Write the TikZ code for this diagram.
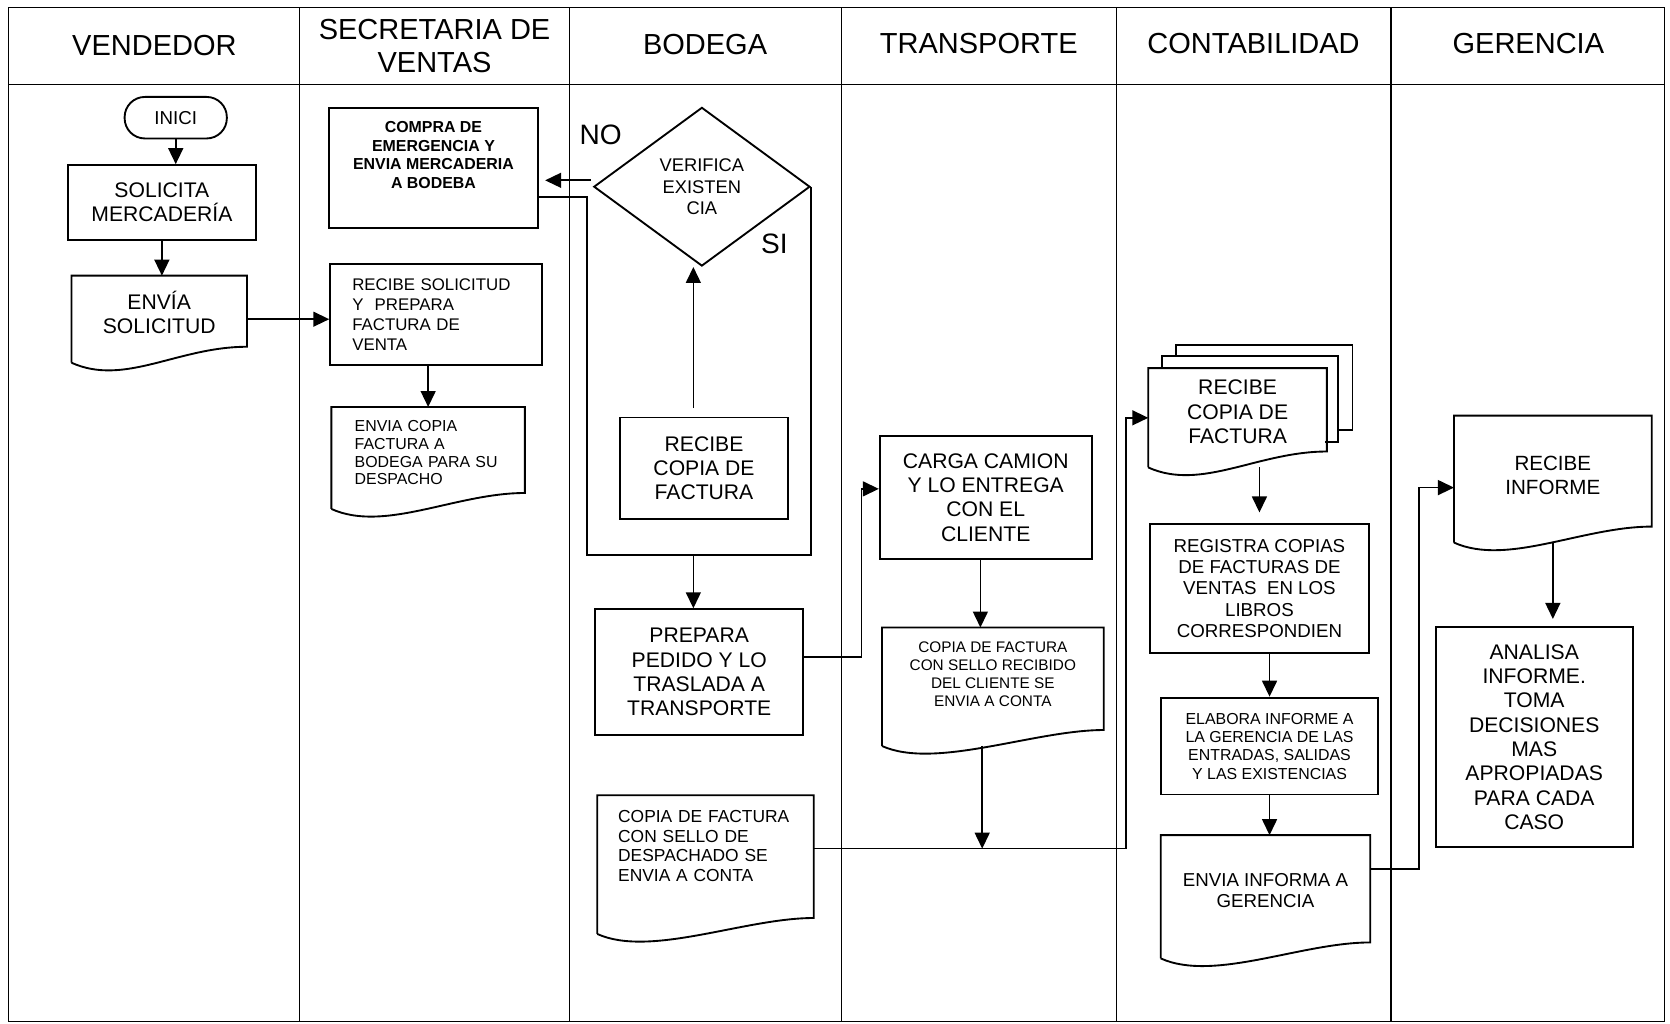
\documentclass[tikz,border=0pt]{standalone}
\usepackage{fontspec}
\setmainfont{Liberation Sans}
\usepackage{tikz}
\usetikzlibrary{arrows.meta, shapes.geometric}
\tikzset{%
	caja/.style={
		draw,
		line width=1pt,
		align=center,
		inner sep=0pt,
		font=\fontsize{11.3}{13}\selectfont
	},
	hoja/.style={
		caja,
		draw=none
	},
	chica/.style={
		font=\fontsize{8.5}{10}\selectfont
	},
	cabecera/.style={
		align=center,
		font=\fontsize{15.5}{17.6}\selectfont
	},
	marco/.style={line width=0.6pt},
	linea/.style={line width=0.9pt},
	flecha/.style={
		line width=0.9pt,
		-{Triangle[length=0.3cm, width=0.28cm]}
	},
}
% borde de documento con base ondulada
\newcommand{\contorno}[1]{%
	\draw[line width=1pt] (#1.south west) -- (#1.north west) -- (#1.north east)
		-- ([yshift=0.3cm]#1.south east)
		.. controls +(-1.3cm,0cm) and +(1cm,-0.45cm) .. (#1.south west);}
\newcommand{\subir}[1]{\rule[-#1]{0pt}{#1}}

\begin{document}
\begin{tikzpicture}[x=0.02cm, y=-0.02cm]
	\useasboundingbox (0,0) rectangle (1568,961);

	% Marco y carriles
	\draw[marco] (8,7) rectangle (1563,959);
	\draw[marco] (8,79) -- (1563,79);
	\foreach \x in {281,535,790,1048,1306}
		\draw[marco] (\x,7) -- (\x,959);

	% Encabezados
	\node[cabecera] (vendedor) at (145,43) {VENDEDOR};
	\node[cabecera] (secretaria) at (408,43) {SECRETARIA DE\\VENTAS};
	\node[cabecera] (bodega) at (662,42) {BODEGA};
	\node[cabecera] (transporte) at (919,41) {TRANSPORTE};
	\node[cabecera] (contabilidad) at (1177,41) {CONTABILIDAD};
	\node[cabecera] (gerencia) at (1435,41) {GERENCIA};

	% Vendedor
	\node[caja, rounded corners=0.38cm, minimum width=1.92cm, minimum height=0.78cm,
		font=\fontsize{10}{12}\selectfont] (inicio) at (165,110.5) {INICI};
	\node[caja, minimum width=3.52cm, minimum height=1.4cm] (solicita) at (152,190) {SOLICITA\\MERCADERÍA};
	\node[hoja, minimum width=3.26cm, minimum height=1.6cm] (envia) at (149.5,299.7) {ENVÍA\\SOLICITUD\subir{0.27cm}};
	\contorno{envia}

	% Secretaria de ventas
	\node[caja, minimum width=3.92cm, minimum height=2.26cm,
		font=\fontsize{8.5}{10}\selectfont\bfseries] (compra) at (407,157.5)
		{COMPRA DE\\EMERGENCIA Y\\ENVIA MERCADERIA\\A BODEBA\subir{0.48cm}};
	\node[caja, minimum width=3.98cm, minimum height=1.9cm, text width=3.15cm, align=left,
		font=\fontsize{9}{10.6}\selectfont] (recibesol) at (409.5,295.5)
		{RECIBE SOLICITUD\\Y\ \ PREPARA\\FACTURA DE\\VENTA};
	\node[hoja, chica, minimum width=3.6cm, minimum height=1.88cm, text width=2.76cm, align=left,
		font=\fontsize{8.5}{9.4}\selectfont] (enviacopia) at (402,430)
		{ENVIA COPIA\\FACTURA A\\BODEGA PARA SU\\DESPACHO\subir{0.2cm}};
	\contorno{enviacopia}

	% Bodega
	\node[caja, diamond, minimum width=4.06cm, minimum height=2.98cm,
		font=\fontsize{9.8}{11.3}\selectfont] (verifica) at (659,175.3) {VERIFICA\\EXISTEN\\CIA};
	\node[font=\fontsize{15}{18}\selectfont] (no) at (564,127) {NO};
	\node[font=\fontsize{15}{18}\selectfont] (si) at (727,229) {SI};
	\node[caja, minimum width=3.16cm, minimum height=1.9cm] (recibecopia) at (661,439.5) {RECIBE\\COPIA DE\\FACTURA};
	\node[caja, minimum width=3.9cm, minimum height=2.36cm] (preparapedido) at (656.5,631)
		{PREPARA\\PEDIDO Y LO\\TRASLADA A\\TRANSPORTE};
	\node[hoja, minimum width=4.03cm, minimum height=2.57cm, text width=3.28cm, align=left,
		font=\fontsize{9.3}{10.4}\selectfont] (copiadesp) at (662.4,811.8)
		{COPIA DE FACTURA\\CON SELLO DE\\DESPACHADO SE\\ENVIA A CONTA\subir{0.7cm}};
	\contorno{copiadesp}

	% Transporte
	\node[caja, minimum width=3.98cm, minimum height=2.32cm] (carga) at (925.5,467)
		{CARGA CAMION\\Y LO ENTREGA\\CON EL\\CLIENTE};
	\node[hoja, minimum width=4.13cm, minimum height=2.19cm,
		font=\fontsize{8.2}{9.6}\selectfont] (copiarec) at (932.2,644.8)
		{COPIA DE FACTURA\\CON SELLO RECIBIDO\\DEL CLIENTE SE\\ENVIA A CONTA\subir{0.46cm}};
	\contorno{copiarec}

	% Contabilidad
	\node[hoja, minimum width=3.32cm, minimum height=1.83cm] (recibeconta) at (1162,392.3)
		{RECIBE\\COPIA DE\\FACTURA\subir{0.23cm}};
	\contorno{recibeconta}
	\draw[linea] ([shift={(13,0)}]recibeconta.north west) -- ++(0,-11.6) -- ++(165.3,0) -- ++(0,81) -- ++(-12,0);
	\draw[linea] ([shift={(26,-11.6)}]recibeconta.north west) -- ++(0,-10) -- ++(165.7,0) -- ++(0,79.7) -- ++(-13.7,0);
	\node[caja, minimum width=4.1cm, minimum height=2.42cm,
		font=\fontsize{10}{11.3}\selectfont] (registra) at (1182.5,552.5)
		{REGISTRA COPIAS\\DE FACTURAS DE\\VENTAS\ \ EN LOS\\LIBROS\\CORRESPONDIEN};
	\node[caja, minimum width=4.08cm, minimum height=1.82cm,
		font=\fontsize{8.5}{9.8}\selectfont] (elabora) at (1192,700.5)
		{ELABORA INFORME A\\LA GERENCIA DE LAS\\ENTRADAS, SALIDAS\\Y LAS EXISTENCIAS};
	\node[hoja, minimum width=3.9cm, minimum height=2.28cm,
		font=\fontsize{10}{11.3}\selectfont] (enviainf) at (1188.2,842)
		{ENVIA INFORMA A\\GERENCIA\subir{0.24cm}};
	\contorno{enviainf}

	% Gerencia
	\node[hoja, minimum width=3.68cm, minimum height=2.35cm,
		font=\fontsize{11}{13}\selectfont] (recibeinf) at (1458,449.8)
		{RECIBE\\INFORME\subir{0.15cm}};
	\contorno{recibeinf}
	\node[caja, minimum width=3.7cm, minimum height=4.12cm] (analiza) at (1440.5,692)
		{ANALISA\\INFORME.\\TOMA\\DECISIONES\\MAS\\APROPIADAS\\PARA CADA\\CASO};

	% Conectores
	\draw[flecha] (inicio.south) -- (inicio.south |- solicita.north);
	\draw[flecha] (solicita.south) -- (solicita.south |- envia.north);
	\draw[flecha] (envia.east) -- (envia.east -| recibesol.west);
	\draw[flecha] (enviacopia.north |- recibesol.south) -- (enviacopia.north);
	\draw[flecha, shorten <=0.04cm, shorten >=0.12cm] ([yshift=0.12cm]verifica.west) -- ([yshift=0.12cm]verifica.west -| compra.east);
	\coordinate (union) at (651,521);
	\draw[linea] ([yshift=-0.55cm]compra.east) -| ([xshift=-2cm]union) -| (verifica.east);
	\draw[flecha] (union) -- (union |- preparapedido.north);
	\draw[flecha, shorten <=0.16cm] (union |- recibecopia.north) -- (union |- verifica.south);
	\draw[flecha] ([yshift=0.28cm]preparapedido.east) -- ++(54,0) |- ([yshift=0.16cm]carga.west);
	\coordinate (salida) at ([yshift=0.3cm]copiadesp.east);
	\draw[flecha] (salida) -| ([xshift=-0.42cm]recibeconta.west) -- (recibeconta.west);
	\draw[flecha] ([xshift=-0.1cm]carga.south) -- ([xshift=-0.1cm]carga.south |- copiarec.north);
	\draw[flecha] ([xshift=-0.2cm]copiarec.south) -- ([xshift=-0.2cm]copiarec.south |- salida);
	\draw[flecha, shorten >=0.2cm] (registra.north |- recibeconta.south) -- (registra.north);
	\draw[flecha] (elabora.north |- registra.south) -- (elabora.north);
	\draw[flecha] (elabora.south) -- (elabora.south |- enviainf.north);
	\draw[flecha] ([yshift=0.52cm]enviainf.east) -| ([xshift=-0.66cm,yshift=-0.16cm]recibeinf.west)
		-- ([yshift=-0.16cm]recibeinf.west);
	\draw[flecha, shorten >=0.14cm] (recibeinf.south) -- (recibeinf.south |- analiza.north);
\end{tikzpicture}
\end{document}
